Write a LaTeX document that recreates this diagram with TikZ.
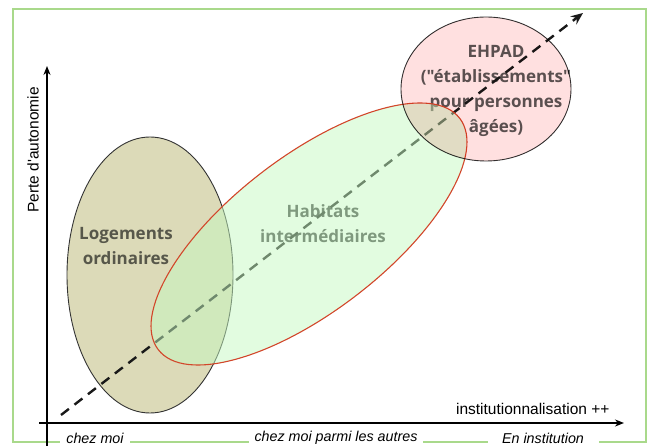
\documentclass[tikz,border=0pt]{standalone}
\usepackage{fontspec}
\newfontfamily\zonefont{Open Sans}
\newfontfamily\arialfont{Liberation Sans}
\usetikzlibrary{arrows.meta}

\definecolor{framegreen}{HTML}{A9D98B}
\definecolor{logcol}{HTML}{DCDAB8}
\definecolor{habcol}{HTML}{C5F9C1}
\definecolor{ehpadcol}{HTML}{FFE0E0}
\definecolor{habline}{HTML}{D2462A}
\definecolor{logtext}{HTML}{57574A}
\definecolor{habtext}{HTML}{3A3A3C}
\definecolor{ehpadtext}{HTML}{5A5A5A}

\begin{document}
\begin{tikzpicture}[x=1pt,y=-1pt,>=Stealth,
    blob/.style={draw=black!80, line width=0.9pt},
    zone/.style={font=\zonefont\bfseries\fontsize{17}{25}\selectfont, align=center},
    axis/.style={->, line width=1.6pt, >={Stealth[length=9pt,width=7pt]}},
    axislabel/.style={font=\arialfont\fontsize{15.5}{18}\selectfont},
    ticklabel/.style={font=\arialfont\itshape\fontsize{14.3}{16}\selectfont,
      fill=white, inner xsep=6pt, inner ysep=1pt}]
  \useasboundingbox (0,0) rectangle (649,446);
  % frame
  \draw[framegreen, line width=1.4pt] (13,9) rectangle (646,442);
  \node[ticklabel] (chezmoi) at (95,438) {chez moi};
  \node[ticklabel] (parmi) at (336,438) {chez moi parmi les autres};
  \node[ticklabel, inner xsep=0pt, minimum width=111pt] (institution) at (543,438) {En institution};
  % axes
  \coordinate (xstart) at (39,423);
  \coordinate (xend) at (624,423);
  \coordinate (ystart) at (47,446);
  \coordinate (yend) at (47,66);
  \draw[axis] (xstart) -- (xend);
  \draw[axis] (ystart) -- (yend);
  \node[axislabel, anchor=south east] (xlabel) at (613,418) {institutionnalisation ++};
  \node[axislabel, rotate=90] (ylabel) at (33,150) {Perte d'autonomie};
  % zones
  \fill[logcol] (150,275) ellipse [x radius=83, y radius=138];
  \draw[blob] (150,275) ellipse [x radius=83, y radius=138];
  \node[zone, text=logtext] (logements) at (126,246) {Logements\\ordinaires};
  \node[zone, text=habtext] (habitats) at (323,224) {Habitats\\intermédiaires};
  \node[zone, text=ehpadtext] (ehpad) at (496,91) {EHPAD\\("établissements"\\pour personnes\\âgées)};
  \coordinate (dstart) at (61,415);
  \coordinate (dend) at (583,13);
  \draw[->, >={Stealth[length=12pt,width=10pt]}, dash pattern=on 10pt off 7pt,
    line width=2.4pt, black!90] (dstart) -- (dend);
  \fill[habcol, fill opacity=0.5, rotate around={37.5:(309,234)}]
    (309,234) ellipse [x radius=190, y radius=77.5];
  \draw[habline, line width=1.1pt, rotate around={37.5:(309,234)}]
    (309,234) ellipse [x radius=190, y radius=77.5];
  \begin{scope}[blend mode=multiply]
    \fill[ehpadcol] (486,89) ellipse [x radius=85, y radius=72];
    \draw[blob] (486,89) ellipse [x radius=85, y radius=72];
  \end{scope}
\end{tikzpicture}
\end{document}
